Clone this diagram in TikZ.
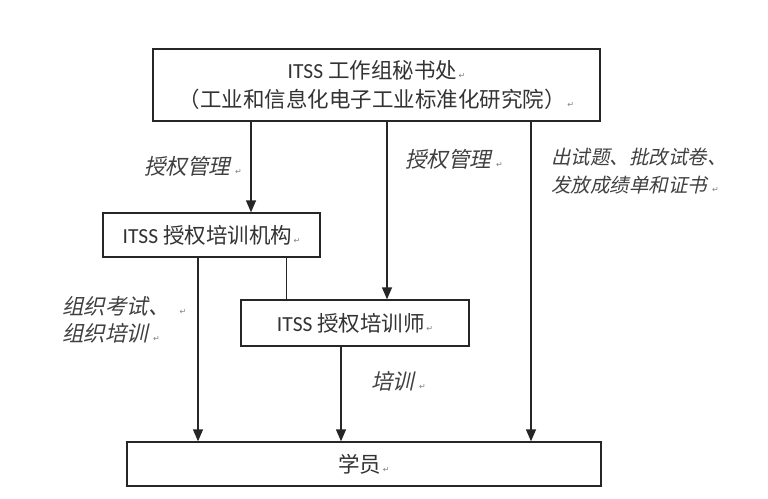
\documentclass[tikz,border=0pt]{standalone}
\usepackage{fontspec}
\setmainfont{Noto Sans CJK SC}
\newfontfamily\carl{Carlito}
\newfontfamily\cjkit[FakeSlant=0.22]{Noto Sans CJK SC}
\newfontfamily\dejavu{DejaVu Sans}
\usetikzlibrary{arrows.meta}
\newcommand\retmk{\kern1.5pt{\dejavu\fontsize{8}{8}\selectfont\color{gray}↵}}
\newcommand\retmki{\kern5pt{\dejavu\fontsize{8}{8}\selectfont\color{gray}↵}}
\tikzset{
  box/.style={draw=black!85, line width=1.4pt, fill=white, inner sep=0pt, align=center,
    font=\fontsize{21.5}{29}\selectfont, text=black!80},
  lab/.style={font=\cjkit\fontsize{21.5}{27}\selectfont, text=black!75, align=left, inner sep=0pt},
  arr/.style={line width=1.4pt, draw=black!85, -{Triangle[length=12pt,width=10pt]}},
  ln/.style={line width=1pt, draw=black!85}
}
\begin{document}
\begin{tikzpicture}[x=1pt,y=-1pt]
\useasboundingbox[fill=white] (0,0) rectangle (768,498);
\node[box, minimum width=447pt, minimum height=72pt] (top) at (376.5,85)
  {{\carl ITSS }工作组秘书处\retmk\\（工业和信息化电子工业标准化研究院）\retmk};
\node[box, minimum width=217pt, minimum height=44pt] (inst) at (211.5,235)
  {{\carl ITSS }授权培训机构\retmk};
\node[box, minimum width=228pt, minimum height=46pt] (trainer) at (355,323)
  {{\carl ITSS }授权培训师\retmk};
\node[box, minimum width=474pt, minimum height=44pt] (stu) at (364,464)
  {学员\retmk};

\draw[arr] (251,0 |- top.south) -- (251,0 |- inst.north);
\draw[arr] (387,0 |- top.south) -- (387,0 |- trainer.north);
\draw[arr] (531,0 |- top.south) -- (531,0 |- stu.north);
\draw[ln] (286,0 |- inst.south) -- (286,0 |- trainer.north);
\draw[arr] (198,0 |- inst.south) -- (198,0 |- stu.north);
\draw[arr] (341,0 |- trainer.south) -- (341,0 |- stu.north);

\node[lab, anchor=west] (l1) at (144,166) {授权管理\retmki};
\node[lab, anchor=west] (l2) at (405,159) {授权管理\retmki};
\node[lab, anchor=west, font=\cjkit\fontsize{19.5}{28}\selectfont] (l3) at (551,171) {出试题、批改试卷、\\发放成绩单和证书\retmki};
\node[lab, anchor=west] (l4) at (62,320) {组织考试、 \retmki\\组织培训\retmki};
\node[lab, anchor=west] (l5) at (371,381) {培训\retmki};
\end{tikzpicture}
\end{document}
